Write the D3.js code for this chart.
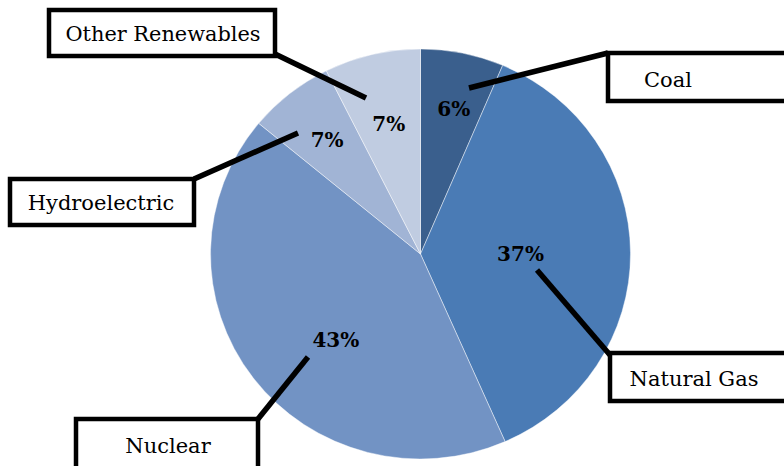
<!DOCTYPE html>
<html>
<head>
<meta charset="utf-8">
<script src="https://cdn.jsdelivr.net/npm/d3@7"></script>
<style>
  body { margin: 0; background: #fff; }
  svg { display: block; }
</style>
</head>
<body>
<div id="chart"></div>
<script>
// data
var sources = ["Coal", "Natural Gas", "Nuclear", "Hydroelectric", "Other Renewables"];
var shares = [6.4, 37.0, 42.6, 6.6, 7.4];
var colors = ["#3a5f8d", "#4a7bb5", "#7293c4", "#a1b4d5", "#c0cce1"];

// callout layout (box + leader line), label radius
var labelR = [153, 100, 122, 150, 138];
var labelNudge = [1, 0, -9, 0, 0];   // degrees
var callouts = [
  {x: 608, y: 53, w: 200, h: 48, tx: 668, ty: 87, lx: 469, ly: 88, cx: 608, cy: 53},
  {x: 610, y: 353, w: 200, h: 48, tx: 694, ty: 386, lx: 537, ly: 270, cx: 610, cy: 355},
  {x: 76, y: 419, w: 182, h: 60, tx: 168, ty: 453, lx: 308, ly: 357, cx: 258, cy: 419},
  {x: 10, y: 179, w: 184, h: 46, tx: 101, ty: 210, lx: 298, ly: 133, cx: 194, cy: 179},
  {x: 49, y: 10, w: 226, h: 46, tx: 163, ty: 41, lx: 366, ly: 98, cx: 275, cy: 54, fit: 195}
];

var width = 784, height = 466;
var cx = 420.5, cy = 254, r = 210, ry = 205;

var svg = d3.select("#chart").append("svg")
  .attr("width", width)
  .attr("height", height);

var pie = d3.pie().sort(null).value(function(d) { return d; });
var arcs = pie(shares);
var arc = d3.arc().innerRadius(0).outerRadius(r);

var g = svg.append("g")
  .attr("transform", "translate(" + cx + "," + cy + ") scale(1," + (ry / r) + ")");

g.selectAll("path")
  .data(arcs)
  .enter()
  .append("path")
    .attr("d", arc)
    .attr("fill", function(d, i) { return colors[i]; })
    .attr("stroke", "rgba(255,255,255,0.45)")
    .attr("stroke-width", 1);

// leader lines
svg.selectAll("line.lead")
  .data(callouts)
  .enter()
  .append("line")
    .attr("class", "lead")
    .attr("x1", function(d) { return d.lx; })
    .attr("y1", function(d) { return d.ly; })
    .attr("x2", function(d) { return d.cx; })
    .attr("y2", function(d) { return d.cy; })
    .attr("stroke", "#000")
    .attr("stroke-width", 5.5);

// boxes
svg.selectAll("rect.box")
  .data(callouts)
  .enter()
  .append("rect")
    .attr("class", "box")
    .attr("x", function(d) { return d.x; })
    .attr("y", function(d) { return d.y; })
    .attr("width", function(d) { return d.w; })
    .attr("height", function(d) { return d.h; })
    .attr("fill", "#fff")
    .attr("stroke", "#000")
    .attr("stroke-width", 4.5);

var names = svg.selectAll("text.name")
  .data(callouts)
  .enter()
  .append("text")
    .attr("class", "name")
    .attr("x", function(d) { return d.tx; })
    .attr("y", function(d) { return d.ty; })
    .attr("text-anchor", "middle")
    .attr("font-family", "'DejaVu Serif', serif")
    .attr("font-size", 21)
    .attr("fill", "#000")
    .text(function(d, i) { return sources[i]; });

names.filter(function(d) { return d.fit; })
  .attr("textLength", function(d) { return d.fit; })
  .attr("lengthAdjust", "spacingAndGlyphs");

// percentage labels
svg.selectAll("text.pct")
  .data(arcs)
  .enter()
  .append("text")
    .attr("class", "pct")
    .attr("transform", function(d, i) {
      var a = (d.startAngle + d.endAngle) / 2 + labelNudge[i] * Math.PI / 180;
      var x = cx + labelR[i] * Math.sin(a);
      var y = cy - labelR[i] * Math.cos(a) * ry / r;
      return "translate(" + x + "," + y + ")";
    })
    .attr("text-anchor", "middle")
    .attr("dy", "0.38em")
    .attr("font-family", "'DejaVu Serif', serif")
    .attr("font-weight", "bold")
    .attr("font-size", 20)
    .attr("fill", "#000")
    .text(function(d) { return Math.round(d.data) + "%"; });
</script>
</body>
</html>
